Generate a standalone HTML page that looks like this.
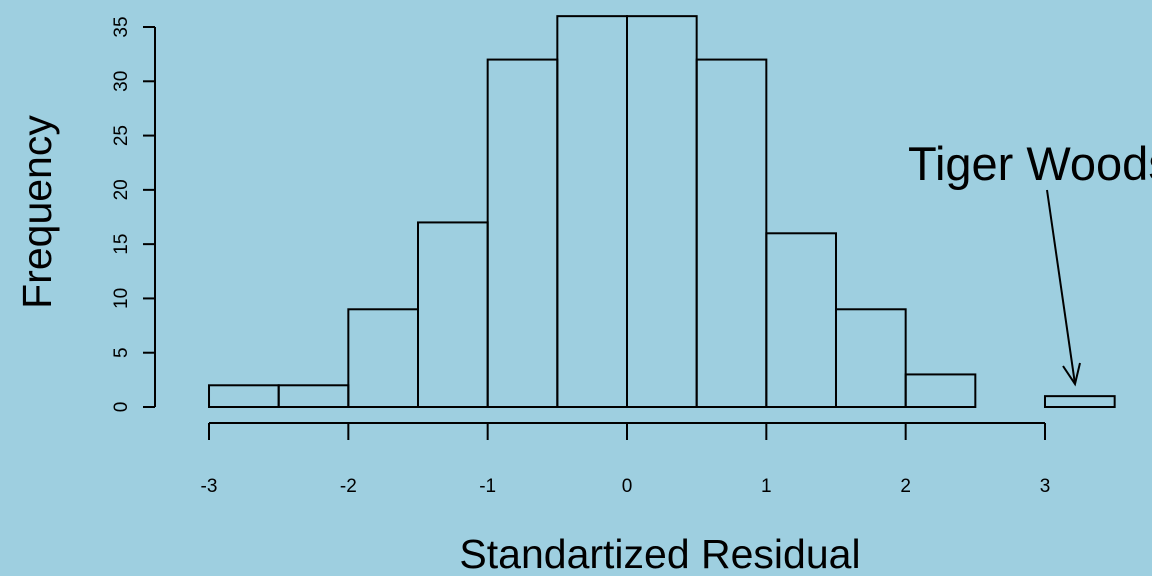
<!DOCTYPE html>
<html><head><meta charset="utf-8"><style>
html,body{margin:0;padding:0;background:#9ecfe0;overflow:hidden;}
svg{display:block;font-family:"Liberation Sans",Arial,sans-serif;}
</style></head><body>
<svg id="chart" width="1152" height="576" viewBox="0 0 1152 576">
<rect width="1152" height="576" fill="#9ecfe0"/>
<g id="bars"></g>
<g id="xaxis"></g>
<g id="yaxis"></g>
<text x="660" y="568" font-size="41" text-anchor="middle">Standartized Residual</text>
<text transform="translate(51,212) rotate(-90)" font-size="41" text-anchor="middle">Frequency</text>
<text x="908" y="180" font-size="47">Tiger Woods</text>
<g stroke="#000" stroke-width="2" fill="none">
<line x1="1047" y1="190" x2="1075" y2="384"/>
<polyline points="1063,366 1075,384 1080,363"/>
</g>
</svg>
<script>
const binStarts = [-3,-2.5,-2,-1.5,-1,-0.5,0,0.5,1,1.5,2,2.5,3];
const counts = [2,2,9,17,32,36,36,32,16,9,3,0,1];
const binWidth = 0.5;
const xTicks = [-3,-2,-1,0,1,2,3];
const yTicks = [0,5,10,15,20,25,30,35];
const NS='http://www.w3.org/2000/svg';
const sx = v => 627 + v*139.33;
const sy = v => 407 - v*10.857;
function mk(tag, attrs, parent){const e=document.createElementNS(NS,tag);for(const k in attrs)e.setAttribute(k,attrs[k]);parent.appendChild(e);return e;}
const bars=document.getElementById('bars');
binStarts.forEach((b,i)=>{
  const x0=sx(b), x1=sx(b+binWidth), y=sy(counts[i]);
  const r=mk('rect',{x:x0,y:y,width:x1-x0,height:sy(0)-y,fill:'none',stroke:'#000','stroke-width':2},bars);
  
  
});
const xa=document.getElementById('xaxis');
mk('line',{x1:sx(xTicks[0]),x2:sx(xTicks[xTicks.length-1]),y1:423,y2:423,stroke:'#000','stroke-width':2},xa);
xTicks.forEach(t=>{
  mk('line',{x1:sx(t),x2:sx(t),y1:423,y2:440,stroke:'#000','stroke-width':2},xa);
  const tx=mk('text',{x:sx(t),y:492,'font-size':19,'text-anchor':'middle'},xa);
  tx.textContent=String(t);
  
  
});
const ya=document.getElementById('yaxis');
mk('line',{x1:155,x2:155,y1:sy(yTicks[0]),y2:sy(yTicks[yTicks.length-1]),stroke:'#000','stroke-width':2},ya);
yTicks.forEach(t=>{
  mk('line',{x1:143,x2:155,y1:sy(t),y2:sy(t),stroke:'#000','stroke-width':2},ya);
  const tx=mk('text',{transform:`translate(127,${sy(t)}) rotate(-90)`,'font-size':19,'text-anchor':'middle'},ya);
  tx.textContent=String(t);
  
  
});
</script>
</body></html>
